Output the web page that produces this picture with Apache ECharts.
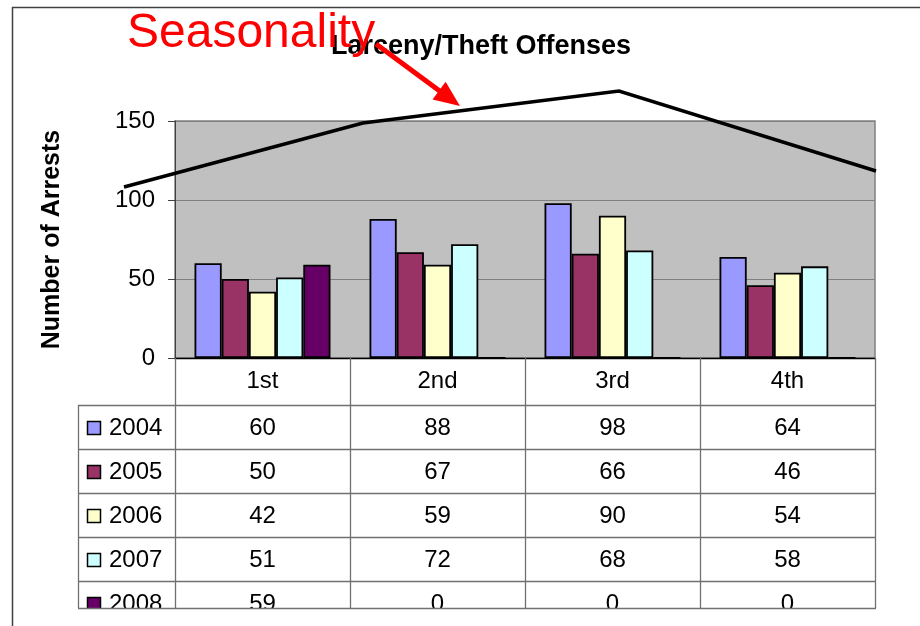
<!DOCTYPE html>
<html>
<head>
<meta charset="utf-8">
<script src="https://cdn.jsdelivr.net/npm/echarts@6/dist/echarts.min.js"></script>
<style>
html, body { margin: 0; padding: 0; background: #fff; }
#main { width: 920px; height: 626px; }
</style>
</head>
<body>
<div id="main"></div>
<script>
var quarters = ['1st', '2nd', '3rd', '4th'];
var years = ['2004', '2005', '2006', '2007', '2008'];
var arrests2004 = [60, 88, 98, 64];
var arrests2005 = [50, 67, 66, 46];
var arrests2006 = [42, 59, 90, 54];
var arrests2007 = [51, 72, 68, 58];
var arrests2008 = [59, 0, 0, 0];
var yTicks = [0, 50, 100, 150];

var yearValues = [arrests2004, arrests2005, arrests2006, arrests2007, arrests2008];
var yearColors = ['#9999ff', '#993366', '#ffffcc', '#ccffff', '#660066'];
var font = 'Arial, "Liberation Sans", sans-serif';

// plot box
var plotLeft = 175, plotTop = 121, plotW = 700, plotH = 237;
// data table under the plot
var tableLeft = 78, headTop = plotTop + plotH, rowTop = 405, rowH = 44, tableBottom = 608;
var colW = plotW / quarters.length;
var plotRight = plotLeft + plotW;

var g = [];
function addLine(x1, y1, x2, y2, color, w, z) {
    g.push({ type: 'line', silent: true, z: z || 5,
        shape: { x1: x1, y1: y1, x2: x2, y2: y2 },
        style: { stroke: color, lineWidth: w } });
}
function addText(x, y, text, size, align, z) {
    g.push({ type: 'text', silent: true, z: z || 10, x: x, y: y,
        style: { text: text, fill: '#000', font: size + 'px ' + font,
            textAlign: align || 'center', textVerticalAlign: 'middle' } });
}

// outer frame (top + left edge)
addLine(12, 7.5, 920, 7.5, '#404040', 1.5);
addLine(12.5, 7, 12.5, 626, '#404040', 1.5);

// table grid
var gridColor = '#707070';
for (var c = 0; c <= quarters.length; c++) {
    var x = Math.round(plotLeft + c * colW) + 0.5;
    addLine(x, headTop, x, tableBottom, gridColor, 1.3);
}
addLine(tableLeft + 0.5, rowTop, tableLeft + 0.5, tableBottom, gridColor, 1.3);
for (var r = 0; r < years.length; r++) {
    addLine(tableLeft, rowTop + r * rowH + 0.5, plotRight, rowTop + r * rowH + 0.5, gridColor, 1.3);
}

// header row
quarters.forEach(function (q, i) {
    addText(plotLeft + (i + 0.5) * colW, headTop + 23, q, 24);
});

// value rows
years.forEach(function (yr, r) {
    var cy = rowTop + r * rowH + 23;
    g.push({ type: 'rect', silent: true, z: 10,
        shape: { x: 87.5, y: cy - 6.5, width: 13, height: 13 },
        style: { fill: yearColors[r], stroke: '#000', lineWidth: 1.5 } });
    addText(109, cy, yr, 24, 'left');
    yearValues[r].forEach(function (v, i) {
        addText(plotLeft + (i + 0.5) * colW, cy, String(v), 24);
    });
});

// the last row is cut off by the bottom of the table
g.push({ type: 'rect', silent: true, z: 20,
    shape: { x: 20, y: tableBottom + 1, width: 900, height: 626 - tableBottom },
    style: { fill: '#fff' } });
addLine(tableLeft, tableBottom + 0.5, plotRight + 1, tableBottom + 0.5, gridColor, 1.3, 30);

// hand drawn seasonality annotation
g.push({ type: 'polyline', silent: true, z: 40,
    shape: { points: [[124, 187], [363, 123], [619, 91], [876, 171]] },
    style: { stroke: '#000', lineWidth: 3.5, fill: null } });
g.push({ type: 'text', silent: true, z: 40, x: 127, y: 34,
    style: { text: 'Seasonality', fill: '#ff0000', font: '48px ' + font,
        textAlign: 'left', textVerticalAlign: 'middle' } });

var arrowFrom = [376, 44], arrowTip = [460, 106];
var dx = arrowTip[0] - arrowFrom[0], dy = arrowTip[1] - arrowFrom[1];
var len = Math.sqrt(dx * dx + dy * dy), ux = dx / len, uy = dy / len;
var headLen = 26, headHalf = 11;
var bx = arrowTip[0] - ux * headLen, by = arrowTip[1] - uy * headLen;
g.push({ type: 'line', silent: true, z: 41,
    shape: { x1: arrowFrom[0], y1: arrowFrom[1], x2: bx + ux * 2, y2: by + uy * 2 },
    style: { stroke: '#ff0000', lineWidth: 5 } });
g.push({ type: 'polygon', silent: true, z: 41,
    shape: { points: [arrowTip, [bx - uy * headHalf, by + ux * headHalf], [bx + uy * headHalf, by - ux * headHalf]] },
    style: { fill: '#ff0000' } });

var series = years.map(function (yr, i) {
    return {
        name: yr,
        type: 'bar',
        data: yearValues[i],
        barGap: 0,
        barCategoryGap: '22.3%',
        itemStyle: { color: yearColors[i], borderColor: '#000', borderWidth: 1.8 },
        emphasis: { disabled: true }
    };
});

var myChart = echarts.init(document.getElementById('main'));
var option = {
    backgroundColor: '#fff',
    animation: false,
    title: {
        text: 'Larceny/Theft Offenses',
        left: 476,
        top: 28,
        textAlign: 'center',
        textStyle: { fontFamily: font, fontSize: 27, fontWeight: 'bold', color: '#000' }
    },
    grid: {
        left: plotLeft, top: plotTop, width: plotW, height: plotH,
        show: true, backgroundColor: '#c0c0c0', borderColor: '#808080', borderWidth: 1.5
    },
    xAxis: {
        type: 'category',
        data: quarters,
        axisLabel: { show: false },
        axisTick: { show: false },
        axisLine: { lineStyle: { color: '#000', width: 1.3 } }
    },
    yAxis: {
        type: 'value',
        min: yTicks[0],
        max: yTicks[yTicks.length - 1],
        interval: yTicks[1] - yTicks[0],
        name: 'Number of Arrests',
        nameLocation: 'middle',
        nameRotate: 90,
        nameGap: 110,
        nameTextStyle: { fontFamily: font, fontSize: 25, fontWeight: 'bold', color: '#000' },
        axisLine: { show: true, lineStyle: { color: '#404040', width: 1 } },
        axisTick: { show: true, length: 7, lineStyle: { color: '#404040' } },
        axisLabel: { fontFamily: font, fontSize: 24, color: '#000', margin: 20 },
        splitLine: { lineStyle: { color: '#808080', width: 1 } }
    },
    series: series,
    graphic: g
};
myChart.setOption(option);
</script>
</body>
</html>
